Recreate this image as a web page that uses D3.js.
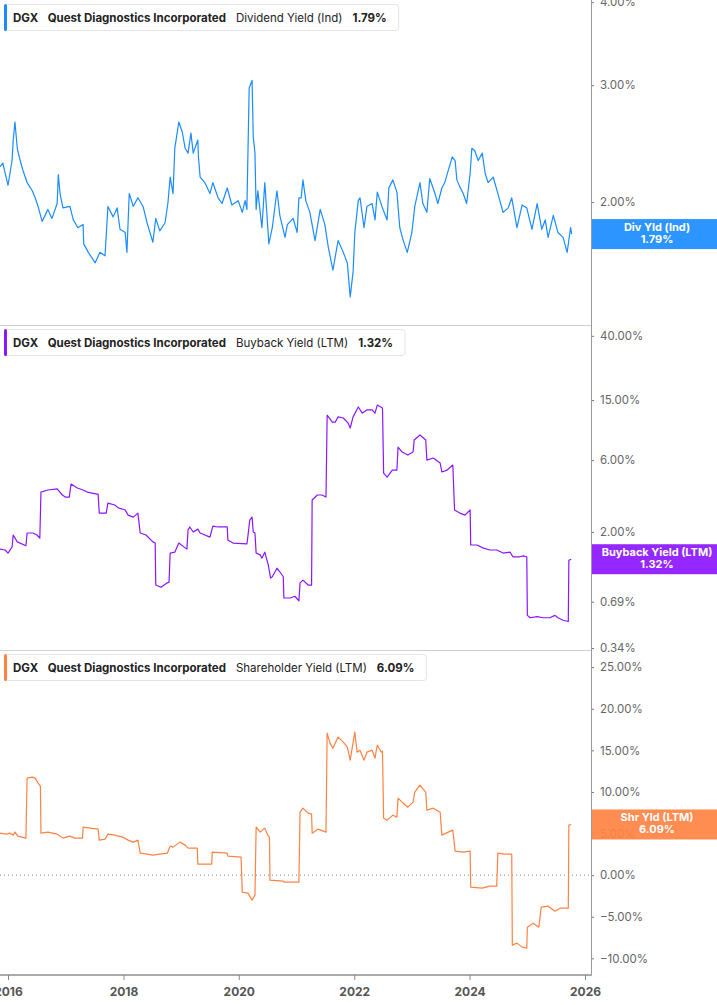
<!DOCTYPE html>
<html>
<head>
<meta charset="utf-8">
<script src="https://cdn.jsdelivr.net/npm/d3@7"></script>
<style>
  body { margin: 0; background: #fff; }
  svg { display: block; font-family: Inter, "Noto Sans", sans-serif; }
</style>
</head>
<body>
<div id="chart"></div>
<script>
// ---- data (decimal year, percent) ----
const divDates = [2015.86,2015.91,2016.00,2016.07,2016.09,2016.12,2016.16,2016.21,2016.26,2016.33,2016.42,2016.47,2016.52,2016.59,2016.69,2016.76,2016.85,2016.87,2016.90,2016.95,2017.07,2017.13,2017.21,2017.30,2017.31,2017.39,2017.51,2017.59,2017.68,2017.73,2017.82,2017.89,2017.94,2018.03,2018.06,2018.10,2018.17,2018.25,2018.34,2018.41,2018.51,2018.56,2018.63,2018.72,2018.77,2018.81,2018.86,2018.89,2018.96,2019.02,2019.07,2019.12,2019.17,2019.21,2019.29,2019.30,2019.33,2019.41,2019.50,2019.55,2019.64,2019.71,2019.80,2019.88,2019.99,2020.06,2020.11,2020.14,2020.18,2020.23,2020.25,2020.28,2020.30,2020.33,2020.40,2020.45,2020.52,2020.58,2020.66,2020.71,2020.80,2020.84,2020.94,2021.01,2021.04,2021.08,2021.11,2021.16,2021.23,2021.32,2021.41,2021.49,2021.55,2021.63,2021.72,2021.81,2021.88,2021.93,2021.98,2022.01,2022.07,2022.10,2022.17,2022.22,2022.31,2022.36,2022.40,2022.48,2022.57,2022.60,2022.67,2022.74,2022.79,2022.85,2022.92,2023.00,2023.05,2023.14,2023.19,2023.26,2023.31,2023.40,2023.45,2023.52,2023.57,2023.63,2023.70,2023.75,2023.78,2023.83,2023.89,2023.95,2024.01,2024.04,2024.09,2024.15,2024.22,2024.27,2024.32,2024.41,2024.49,2024.58,2024.67,2024.73,2024.82,2024.91,2024.99,2025.08,2025.17,2025.25,2025.31,2025.36,2025.45,2025.53,2025.62,2025.69,2025.75,2025.77];
const divValues = [2.26,2.29,2.12,2.31,2.48,2.64,2.41,2.31,2.23,2.14,2.08,2.03,1.97,1.87,1.95,1.89,1.99,2.20,2.06,1.96,1.97,1.88,1.83,1.85,1.73,1.68,1.62,1.68,1.66,1.97,1.90,1.96,1.82,1.80,1.68,2.06,1.97,2.03,1.97,1.86,1.74,1.89,1.81,1.86,1.99,2.18,2.06,2.41,2.64,2.55,2.41,2.37,2.54,2.37,2.48,2.34,2.18,2.14,2.06,2.14,2.03,1.99,2.10,1.98,2.01,1.93,2.01,1.95,2.97,3.05,2.51,2.37,1.95,2.08,1.83,2.14,1.73,1.83,2.08,1.91,1.77,1.85,1.89,1.80,2.03,2.03,2.16,2.01,1.93,1.75,1.95,1.85,1.71,1.58,1.75,1.68,1.62,1.44,1.57,1.80,2.01,2.03,1.83,1.97,1.99,1.88,2.07,1.97,1.88,2.10,2.16,2.07,1.83,1.75,1.68,1.80,1.97,2.14,1.99,1.93,2.17,2.06,1.99,2.10,2.14,2.23,2.34,2.31,2.16,2.11,2.06,1.99,2.21,2.41,2.39,2.31,2.37,2.21,2.14,2.18,2.06,1.93,1.96,2.03,1.83,1.98,1.96,1.82,1.99,1.82,1.88,1.77,1.91,1.80,1.77,1.68,1.83,1.79];

const bbDates = [2015.86,2015.95,2016.00,2016.07,2016.09,2016.16,2016.31,2016.33,2016.43,2016.50,2016.55,2016.57,2016.69,2016.85,2016.94,2016.99,2017.06,2017.09,2017.20,2017.30,2017.37,2017.54,2017.56,2017.58,2017.70,2017.73,2017.85,2017.91,2018.03,2018.08,2018.17,2018.25,2018.29,2018.39,2018.51,2018.55,2018.56,2018.65,2018.76,2018.79,2018.81,2018.89,2018.96,2019.07,2019.10,2019.12,2019.15,2019.21,2019.29,2019.33,2019.50,2019.55,2019.64,2019.80,2019.81,2019.90,2020.14,2020.15,2020.19,2020.23,2020.25,2020.28,2020.30,2020.37,2020.40,2020.45,2020.51,2020.55,2020.58,2020.66,2020.71,2020.77,2020.78,2020.89,2020.97,2021.04,2021.06,2021.11,2021.20,2021.26,2021.27,2021.36,2021.44,2021.51,2021.53,2021.62,2021.67,2021.72,2021.81,2021.89,2021.93,2021.98,2022.07,2022.14,2022.22,2022.31,2022.36,2022.40,2022.49,2022.51,2022.57,2022.66,2022.74,2022.76,2022.83,2022.93,2023.02,2023.04,2023.14,2023.24,2023.26,2023.37,2023.49,2023.52,2023.61,2023.71,2023.74,2023.83,2023.92,2024.01,2024.02,2024.13,2024.23,2024.35,2024.47,2024.58,2024.70,2024.75,2024.87,2024.93,2024.99,2025.00,2025.05,2025.17,2025.27,2025.39,2025.48,2025.53,2025.62,2025.71,2025.72,2025.76];
const bbValues = [1.54,1.52,1.45,1.59,1.91,1.72,1.62,1.97,1.97,1.91,1.82,3.68,3.80,3.86,3.52,3.41,3.41,4.16,3.92,3.80,3.68,3.57,3.57,2.67,2.67,3.11,3.02,2.89,2.80,2.59,2.51,2.67,1.97,1.91,1.72,1.69,0.89,0.86,0.92,0.93,1.45,1.47,1.69,1.57,1.54,2.06,2.16,2.00,2.09,1.97,1.85,2.19,2.16,2.16,1.77,1.69,1.67,1.77,2.40,2.51,2.00,1.97,1.45,1.41,1.34,1.47,1.21,0.99,1.01,1.15,1.09,1.01,0.73,0.73,0.75,0.70,0.92,0.96,0.89,0.89,3.26,3.52,3.52,3.41,11.9,10.7,10.7,11.6,11.4,10.6,9.79,11.6,13.5,12.3,12.9,12.9,12.3,13.9,13.3,4.92,4.63,5.15,5.15,7.32,6.78,6.48,6.78,8.15,8.79,8.15,6.00,6.19,5.73,5.00,5.15,5.56,2.80,2.67,2.59,2.80,1.64,1.64,1.57,1.52,1.52,1.45,1.47,1.37,1.37,1.39,1.37,0.56,0.54,0.55,0.54,0.54,0.56,0.54,0.52,0.51,1.30,1.32];

const shrDates = [2015.86,2015.98,2016.03,2016.09,2016.12,2016.17,2016.31,2016.33,2016.42,2016.47,2016.52,2016.56,2016.57,2016.69,2016.85,2016.95,2017.07,2017.16,2017.29,2017.30,2017.42,2017.56,2017.58,2017.68,2017.73,2017.85,2017.99,2018.08,2018.17,2018.25,2018.29,2018.41,2018.51,2018.76,2018.81,2018.86,2018.98,2019.07,2019.12,2019.28,2019.29,2019.53,2019.54,2019.80,2019.81,2020.04,2020.06,2020.16,2020.23,2020.28,2020.30,2020.37,2020.45,2020.50,2020.53,2020.54,2020.77,2020.78,2021.04,2021.06,2021.11,2021.20,2021.26,2021.27,2021.37,2021.51,2021.53,2021.58,2021.63,2021.72,2021.81,2021.88,2021.93,2022.01,2022.05,2022.10,2022.17,2022.22,2022.31,2022.36,2022.40,2022.47,2022.49,2022.51,2022.57,2022.67,2022.74,2022.76,2022.83,2022.93,2023.02,2023.05,2023.14,2023.24,2023.26,2023.37,2023.49,2023.52,2023.63,2023.71,2023.75,2023.89,2024.01,2024.02,2024.22,2024.35,2024.47,2024.49,2024.61,2024.73,2024.74,2024.82,2024.91,2024.99,2025.00,2025.10,2025.20,2025.24,2025.36,2025.48,2025.57,2025.71,2025.72,2025.76];
const shrValues = [5.05,4.93,5.05,4.81,5.17,4.69,4.45,11.66,11.78,11.66,11.06,10.70,5.05,5.17,4.93,4.45,4.69,4.45,4.45,5.77,5.65,5.53,4.21,4.33,4.93,4.81,4.57,4.21,3.97,4.21,2.64,2.52,2.40,2.64,3.49,3.37,3.97,3.61,3.25,3.25,1.32,1.32,2.76,2.64,2.28,2.16,-2.04,-2.16,-3.00,-2.40,5.77,5.17,5.65,4.81,4.57,-0.60,-0.72,-0.84,-0.84,7.57,8.05,7.45,7.33,5.05,5.53,5.17,17.07,15.87,15.26,16.59,15.99,15.38,13.82,17.19,14.78,15.02,13.82,14.78,15.02,14.06,15.63,14.78,14.90,6.85,6.61,7.21,6.97,9.25,8.77,8.17,8.77,9.98,10.82,9.98,7.81,8.05,7.57,4.81,5.17,5.41,2.88,2.76,2.88,-1.44,-1.56,-1.32,-1.32,2.64,2.52,2.52,-8.41,-8.17,-8.65,-8.77,-6.25,-5.77,-6.25,-3.85,-3.73,-4.33,-3.97,-3.97,6.01,6.09];

const divTicks = [2, 3, 4];
const bbTicks = [0.34, 0.69, 2, 6, 15, 40];
const shrTicks = [-10, -5, 0, 5, 10, 15, 20, 25];
const yearTicks = [2016, 2018, 2020, 2022, 2024, 2026];

const panels = [
  { metric: "Dividend Yield (Ind)", tag: "Div Yld (Ind)", last: "1.79%", color: "#1a8cff",
    dates: divDates, values: divValues, ticks: divTicks, type: "log", domain: [1.306, 4.03] },
  { metric: "Buyback Yield (LTM)", tag: "Buyback Yield (LTM)", last: "1.32%", color: "#8b16ff",
    dates: bbDates, values: bbValues, ticks: bbTicks, type: "log", domain: [0.33, 47.2] },
  { metric: "Shareholder Yield (LTM)", tag: "Shr Yld (LTM)", last: "6.09%", color: "#ff8242",
    dates: shrDates, values: shrValues, ticks: shrTicks, type: "linear", domain: [-12.0, 27.06] }
];

// decimal year -> Date
function toDate(yr) {
  const y = Math.floor(yr);
  const a = Date.UTC(y, 0, 1), b = Date.UTC(y + 1, 0, 1);
  return new Date(a + (yr - y) * (b - a));
}

const W = 717, H = 1005;
const plotR = 591, panelH = 325;

const svg = d3.select("#chart").append("svg")
  .attr("width", W).attr("height", H);

const x = d3.scaleUtc()
  .domain([toDate(2015.861), toDate(2026.104)])
  .range([0, plotR]);

panels.forEach((p, i) => {
  const top = i * panelH, bot = top + panelH;
  const y = (p.type === "log" ? d3.scaleLog() : d3.scaleLinear())
    .domain(p.domain).range([bot, top]);

  const g = svg.append("g");

  // clip for the line
  svg.append("clipPath").attr("id", "clip" + i)
    .append("rect").attr("x", 0).attr("y", top).attr("width", plotR).attr("height", panelH);

  // panel separator
  if (i > 0) {
    g.append("line")
      .attr("x1", 0).attr("x2", plotR).attr("y1", top + 0.5).attr("y2", top + 0.5)
      .attr("stroke", "#cfcfcf").attr("stroke-width", 1);
  }

  // zero line
  if (p.type === "linear") {
    g.append("line")
      .attr("x1", 0).attr("x2", plotR).attr("y1", y(0)).attr("y2", y(0))
      .attr("stroke", "#888").attr("stroke-width", 1).attr("stroke-dasharray", "1,3");
  }

  const pts = p.dates.map((d, k) => [toDate(d), p.values[k]]);
  const line = d3.line().x(d => x(d[0])).y(d => y(d[1]));

  g.append("path")
    .datum(pts)
    .attr("clip-path", `url(#clip${i})`)
    .attr("fill", "none")
    .attr("stroke", p.color)
    .attr("stroke-width", 1.2)
    .attr("stroke-linejoin", "round")
    .attr("d", line);

  // right axis
  const ax = g.append("g")
    .attr("transform", `translate(${plotR},0)`)
    .call(d3.axisRight(y).tickValues(p.ticks).tickSize(3).tickPadding(6)
      .tickFormat(d => d3.format(".2f")(d) + "%"));
  ax.select(".domain").remove();
  ax.selectAll(".tick line").attr("stroke", "#777");
  ax.selectAll(".tick text")
    .attr("fill", "#666").attr("font-size", 11.5)
    .attr("font-family", "Inter, sans-serif");

  // last value tag
  const ly = y(p.values[p.values.length - 1]);
  const tag = g.append("g");
  tag.append("rect")
    .attr("x", plotR).attr("y", ly - 15).attr("width", W - plotR).attr("height", 30)
    .attr("fill", p.color).attr("fill-opacity", 0.92);
  tag.append("text")
    .attr("x", (plotR + W) / 2 + 3).attr("y", ly - 3.5)
    .attr("text-anchor", "middle").attr("fill", "#fff")
    .attr("font-size", 11).attr("font-weight", 700)
    .text(p.tag);
  tag.append("text")
    .attr("x", (plotR + W) / 2 + 3).attr("y", ly + 9)
    .attr("text-anchor", "middle").attr("fill", "#fff")
    .attr("font-size", 11).attr("font-weight", 700)
    .text(p.last);

  // header
  const hd = g.append("g");
  const box = hd.append("rect")
    .attr("x", 4.5).attr("y", top + 4.5).attr("height", 26).attr("rx", 3)
    .attr("fill", "#fff").attr("stroke", "#e4e4e4");
  hd.append("rect")
    .attr("x", 4).attr("y", top + 4).attr("width", 3).attr("height", 27)
    .attr("rx", 1.5).attr("fill", p.color);
  const t = hd.append("text")
    .attr("x", 13).attr("y", top + 22)
    .attr("font-size", 11.5).attr("fill", "#222");
  t.append("tspan").attr("font-weight", 700).text("DGX");
  t.append("tspan").attr("dx", 10).attr("font-weight", 700).text("Quest Diagnostics Incorporated");
  t.append("tspan").attr("dx", 10).attr("font-weight", 400).text(p.metric);
  t.append("tspan").attr("dx", 10).attr("font-weight", 700).text(p.last);
  const bb = t.node().getBBox();
  box.attr("width", bb.x + bb.width + 12 - 4.5);
});

// vertical axis line
svg.append("line")
  .attr("x1", plotR + 0.5).attr("x2", plotR + 0.5).attr("y1", 0).attr("y2", 3 * panelH)
  .attr("stroke", "#999");

// bottom time axis
const xa = svg.append("g")
  .attr("transform", `translate(0,${3 * panelH})`)
  .call(d3.axisBottom(x).tickValues(yearTicks.map(yr => toDate(yr)))
    .tickSize(5).tickPadding(7).tickFormat(d3.utcFormat("%Y")));
xa.select(".domain").attr("stroke", "#aaa").attr("stroke-width", 2)
  .attr("d", `M0,0H${plotR + 1}`);
xa.selectAll(".tick line").attr("stroke", "#888");
xa.selectAll(".tick text")
  .attr("fill", "#555").attr("font-size", 12).attr("font-weight", 700)
  .attr("font-family", "Inter, sans-serif");
</script>
</body>
</html>
